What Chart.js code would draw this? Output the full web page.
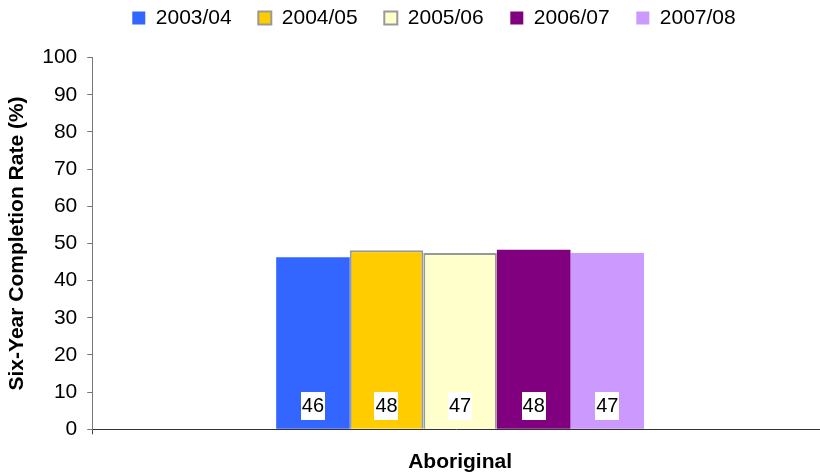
<!DOCTYPE html>
<html><head><meta charset="utf-8">
<script src="https://cdn.jsdelivr.net/npm/chart.js@4"></script>
<style>html,body{margin:0;padding:0;background:#fff}#wrap{width:820px;height:472px;position:relative}</style>
</head><body><div id="wrap"><canvas id="c" width="820" height="472"></canvas></div>
<script>
// ---- data ----
const categories = ['Aboriginal'];
const seriesNames = ['2003/04', '2004/05', '2005/06', '2006/07', '2007/08'];
const values0304 = [46.3];
const values0405 = [48.2];
const values0506 = [47.4];
const values0607 = [48.3];
const values0708 = [47.4];
const dataLabels = ['46', '48', '47', '48', '47'];
const yTickMin = 0, yTickMax = 100, yTickStep = 10;
const yTitle = 'Six-Year Completion Rate (%)';

// ---- styles ----
const FONT = '"Liberation Sans", Arial, Helvetica, sans-serif';
const fills = ['#3366FF', '#FFCC00', '#FFFFCC', '#800080', '#CC99FF'];
const borders = ['#3366FF', '#999999', '#999999', '#800080', '#CC99FF'];
const borderWidths = [0, 2, 2, 0, 0];
const allValues = [values0304, values0405, values0506, values0607, values0708];

const datasets = seriesNames.map((n, i) => ({
  label: n,
  data: allValues[i],
  backgroundColor: fills[i],
  borderColor: borders[i],
  borderWidth: borderWidths[i],
  barPercentage: 1.0,
  categoryPercentage: 0.5
}));

const labelPlugin = {
  id: 'barLabels',
  afterDatasetsDraw(chart) {
    const ctx = chart.ctx, y = chart.scales.y;
    chart.data.datasets.forEach((ds, i) => {
      const meta = chart.getDatasetMeta(i);
      meta.data.forEach((bar) => {
        const txt = dataLabels[i];
        ctx.save();
        ctx.font = '20px ' + FONT;
        const w = ctx.measureText(txt).width + 2, h = 28;
        const cy = y.getPixelForValue(6.3);
        ctx.fillStyle = '#fff';
        ctx.fillRect(Math.round(bar.x - w / 2), Math.round(cy - h / 2), Math.round(w), h);
        ctx.fillStyle = '#000';
        ctx.textAlign = 'center';
        ctx.textBaseline = 'middle';
        ctx.fillText(txt, bar.x, cy + 1);
        ctx.restore();
      });
    });
  }
};

// layout tweaks: legend placement and plot area extending past the right edge
const layoutTweak = {
  id: 'layoutTweak',
  afterLayout(chart) {
    const l = chart.legend;
    l.left += 24; l.right += 24;
    l.top -= 19; l.bottom -= 19;
    const xs = chart.scales.x;
    const extra = 8;
    xs.right += extra; xs.width += extra;
    chart.chartArea.right += extra; chart.chartArea.width += extra;
    xs.configure();
  }
};

new Chart(document.getElementById('c'), {
  type: 'bar',
  data: { labels: categories, datasets },
  options: {
    responsive: false,
    animation: false,
    devicePixelRatio: 1,
    layout: { padding: { left: 0, right: 0, top: 0, bottom: -17.5 } },
    plugins: {
      tooltip: { enabled: false },
      legend: {
        position: 'top',
        labels: {
          boxWidth: 13, boxHeight: 13, padding: 26.6,
          color: '#000',
          font: { family: FONT, size: 21 }
        }
      }
    },
    scales: {
      x: {
        grid: { drawOnChartArea: false, tickLength: 5, color: '#444' },
        border: { color: '#333', width: 1 },
        ticks: { color: '#000', padding: 15, font: { family: FONT, size: 21, weight: 'bold' } }
      },
      y: {
        min: yTickMin, max: yTickMax,
        grid: { drawOnChartArea: false, tickLength: 5, color: '#777' },
        border: { color: '#777', width: 1 },
        ticks: { stepSize: yTickStep, color: '#000', padding: 10, font: { family: FONT, size: 21 } },
        title: { display: true, text: yTitle, color: '#000', padding: { top: 5, bottom: 2 }, font: { family: FONT, size: 21, weight: 'bold' } }
      }
    }
  },
  plugins: [labelPlugin, layoutTweak]
});
</script></body></html>
